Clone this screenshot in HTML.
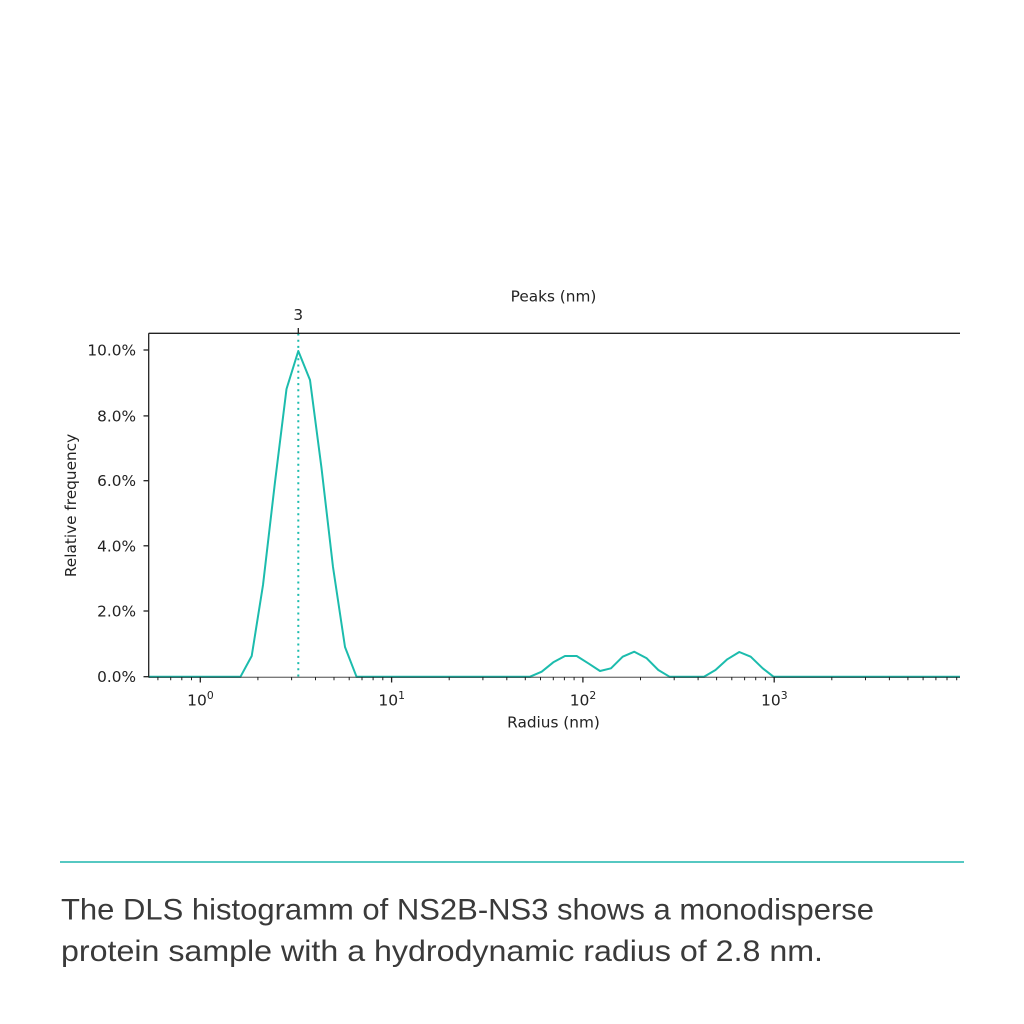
<!DOCTYPE html>
<html>
<head>
<meta charset="utf-8">
<style>
  html,body{margin:0;padding:0;background:#fff;}
  svg{display:block;}
</style>
</head>
<body>
<svg width="1024" height="1024" viewBox="0 0 1024 1024" xmlns="http://www.w3.org/2000/svg">
  <rect width="1024" height="1024" fill="#fff"/>

  <!-- dotted peak line -->
  <line x1="298.3" y1="333.5" x2="298.3" y2="677" stroke="#1cbcad" stroke-width="2" stroke-dasharray="2 4.2"/>

  <!-- curve -->
  <polyline fill="none" stroke="#1cbcad" stroke-width="2" stroke-linejoin="round"
    points="148.7,676.7 240.5,676.7 251.7,656 263,585 275,482 286.5,389 298.3,351 310,380 321.5,468 333,567 345,647 356.5,676.7 530,676.7 541.7,671.7 553.3,662.3 565,656 576.7,656 588.3,663.3 600,671 611,668.3 622.7,656.7 634.3,651.7 646.7,658.3 658.3,670 669.5,676.7 704,676.7 715.5,670 727.3,659.3 739.3,652 750.7,656.7 762.7,668.3 773.5,676.7 960,676.7"/>

  <!-- spines -->
  <g stroke="#222" stroke-width="1.3" fill="none">
    <line x1="148.7" y1="333.3" x2="960" y2="333.3"/>
    <line x1="148.7" y1="333.3" x2="148.7" y2="677.5"/>
    <line x1="148.7" y1="677.3" x2="960" y2="677.3" stroke-opacity="0.6"/>
    <line x1="298.3" y1="333.3" x2="298.3" y2="328"/>
    <line x1="143.5" y1="350" x2="148.7" y2="350"/>
    <line x1="143.5" y1="415.9" x2="148.7" y2="415.9"/>
    <line x1="143.5" y1="480.7" x2="148.7" y2="480.7"/>
    <line x1="143.5" y1="545.8" x2="148.7" y2="545.8"/>
    <line x1="143.5" y1="611" x2="148.7" y2="611"/>
    <line x1="143.5" y1="676.7" x2="148.7" y2="676.7"/>
    <line x1="200.3" y1="677" x2="200.3" y2="682.5"/>
    <line x1="391.6" y1="677" x2="391.6" y2="682.5"/>
    <line x1="582.9" y1="677" x2="582.9" y2="682.5"/>
    <line x1="774.2" y1="677" x2="774.2" y2="682.5"/>
  </g>
  <!-- minor x ticks -->
  <g stroke="#222" stroke-width="1">
    <path d="M157.9 677v3.2M170.7 677v3.2M181.8 677v3.2M191.5 677v3.2
             M257.9 677v3.2M291.6 677v3.2M315.5 677v3.2M334 677v3.2M349.2 677v3.2M362 677v3.2M373.1 677v3.2M382.8 677v3.2
             M449.2 677v3.2M482.9 677v3.2M506.8 677v3.2M525.3 677v3.2M540.5 677v3.2M553.3 677v3.2M564.4 677v3.2M574.1 677v3.2
             M640.5 677v3.2M674.2 677v3.2M698.1 677v3.2M716.6 677v3.2M731.8 677v3.2M744.6 677v3.2M755.7 677v3.2M765.4 677v3.2
             M831.8 677v3.2M865.5 677v3.2M889.4 677v3.2M907.9 677v3.2M923.1 677v3.2M935.9 677v3.2M947 677v3.2M956.7 677v3.2"/>
  </g>

  <!-- chart text -->
  <g font-family="'DejaVu Sans', 'Liberation Sans', sans-serif" fill="#222" font-size="15.3">
    <text x="553.5" y="301.5" text-anchor="middle">Peaks (nm)</text>
    <text x="298.3" y="320" text-anchor="middle">3</text>

    <text x="136" y="355.5" text-anchor="end">10.0%</text>
    <text x="136" y="421.4" text-anchor="end">8.0%</text>
    <text x="136" y="486.2" text-anchor="end">6.0%</text>
    <text x="136" y="551.3" text-anchor="end">4.0%</text>
    <text x="136" y="616.5" text-anchor="end">2.0%</text>
    <text x="136" y="682.2" text-anchor="end">0.0%</text>

    <text x="0" y="0" text-anchor="middle" transform="translate(75.8,505.5) rotate(-90)">Relative frequency</text>
    <text x="553.5" y="727.5" text-anchor="middle">Radius (nm)</text>

    <text x="187.1" y="705.3" font-size="15.5">10<tspan font-size="10.8" dy="-6.3">0</tspan></text>
    <text x="378.4" y="705.3" font-size="15.5">10<tspan font-size="10.8" dy="-6.3">1</tspan></text>
    <text x="569.7" y="705.3" font-size="15.5">10<tspan font-size="10.8" dy="-6.3">2</tspan></text>
    <text x="761.0" y="705.3" font-size="15.5">10<tspan font-size="10.8" dy="-6.3">3</tspan></text>
  </g>

  <!-- separator -->
  <line x1="60" y1="862" x2="964" y2="862" stroke="#1fb5ad" stroke-width="1.6"/>

  <!-- caption -->
  <g font-family="'Liberation Sans', 'DejaVu Sans', sans-serif" fill="#3a3a3a" font-size="29.5">
    <text x="61" y="919.5" textLength="813" lengthAdjust="spacingAndGlyphs">The DLS histogramm of NS2B-NS3 shows a monodisperse</text>
    <text x="61" y="961" textLength="762" lengthAdjust="spacingAndGlyphs">protein sample with a hydrodynamic radius of 2.8 nm.</text>
  </g>
</svg>
</body>
</html>
